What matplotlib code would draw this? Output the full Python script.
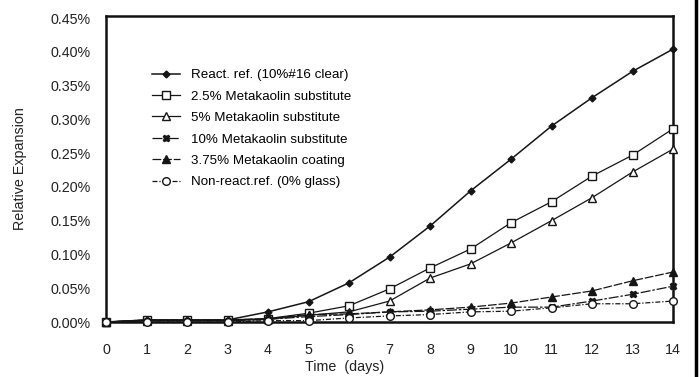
import matplotlib
matplotlib.use("Agg")
import matplotlib.pyplot as plt
from matplotlib.lines import Line2D
from matplotlib.ticker import FuncFormatter

plt.rcParams['font.family'] = ['Liberation Sans', 'DejaVu Sans']

days = list(range(15))
react = [0, 0.003, 0.003, 0.003, 0.015, 0.030, 0.058, 0.096, 0.142, 0.194, 0.241, 0.290, 0.332, 0.371, 0.404]
mk25 = [0, 0.003, 0.003, 0.003, 0.005, 0.013, 0.024, 0.049, 0.080, 0.108, 0.147, 0.178, 0.216, 0.247, 0.286]
mk5 = [0, 0.002, 0.002, 0.002, 0.004, 0.010, 0.015, 0.031, 0.065, 0.086, 0.117, 0.150, 0.184, 0.222, 0.256]
mk10 = [0, 0.002, 0.002, 0.002, 0.004, 0.008, 0.011, 0.015, 0.016, 0.019, 0.022, 0.022, 0.031, 0.041, 0.053]
coat = [0, 0.003, 0.003, 0.003, 0.005, 0.011, 0.012, 0.015, 0.018, 0.022, 0.028, 0.037, 0.046, 0.061, 0.074]
nonr = [0, 0, 0, 0, 0.002, 0.002, 0.006, 0.009, 0.011, 0.015, 0.016, 0.021, 0.027, 0.027, 0.031]

labels = ["React. ref. (10%#16 clear)", "2.5% Metakaolin substitute", "5% Metakaolin substitute",
          "10% Metakaolin substitute", "3.75% Metakaolin coating", "Non-react.ref. (0% glass)"]
yticks = [0, 0.05, 0.10, 0.15, 0.20, 0.25, 0.30, 0.35, 0.40, 0.45]

W, H = 699, 377
fig = plt.figure(figsize=(W / 100, H / 100), dpi=100)
ax = fig.add_axes([106 / W, 1 - 322 / H, (673 - 106) / W, (322 - 16) / H])

c = '#151515'
styles = [
    dict(data=react, marker='D', ms=3.5, mfc=c, mec=c, ls='-', lw=1.1),
    dict(data=mk25, marker='s', ms=6, mfc='white', mec=c, ls='-', lw=0.9),
    dict(data=mk5, marker='^', ms=5.5, mfc='white', mec=c, ls='-', lw=0.9),
    dict(data=mk10, marker='X', ms=5, mfc=c, mec=c, ls=(0, (8, 1.5, 2, 1.5)), lw=0.9),
    dict(data=coat, marker='^', ms=5.5, mfc=c, mec=c, ls=(0, (7, 1.5)), lw=0.9),
    dict(data=nonr, marker='o', ms=5.5, mfc='white', mec=c, ls=(0, (4, 1.5, 1, 1.5)), lw=0.9),
]
for st, lab in zip(styles, labels):
    d = st.pop('data')
    ax.plot(days, d, color=c, label=lab, clip_on=False, zorder=3, mew=1.0, **st)

ax.set_xlim(0, 14)
ax.set_ylim(0, 0.453)
ax.set_xticks(days)
ax.set_yticks(yticks)
ax.yaxis.set_major_formatter(FuncFormatter(lambda v, p: f"{v:.2f}%"))
ax.tick_params(axis='both', length=0, labelsize=10.3, colors='#222222')
ax.tick_params(axis='y', pad=11)
ax.tick_params(axis='x', pad=15)
for s in ax.spines.values():
    s.set_linewidth(1.8)
    s.set_color('#111111')

ax.set_ylabel("Relative Expansion", fontsize=10.3, color='#222222')
ax.yaxis.set_label_coords((27 - 106) / (673 - 106), 0.5)
ax.set_xlabel("Time  (days)", fontsize=10.3, color='#222222')
ax.xaxis.set_label_coords((345 - 106) / (673 - 106), -(360 - 322) / (322 - 16))

ax.legend(loc='upper left', bbox_to_anchor=(152 / W, 1 - 69 / H), bbox_transform=fig.transFigure,
          frameon=False, fontsize=9.6, handlelength=2.1, handletextpad=0.8, labelspacing=0.68,
          borderpad=0, borderaxespad=0)

fig.add_artist(Line2D([696 / W, 696 / W], [0, 1], lw=2.5, color='black'))

fig.savefig("out.png", dpi=100)
